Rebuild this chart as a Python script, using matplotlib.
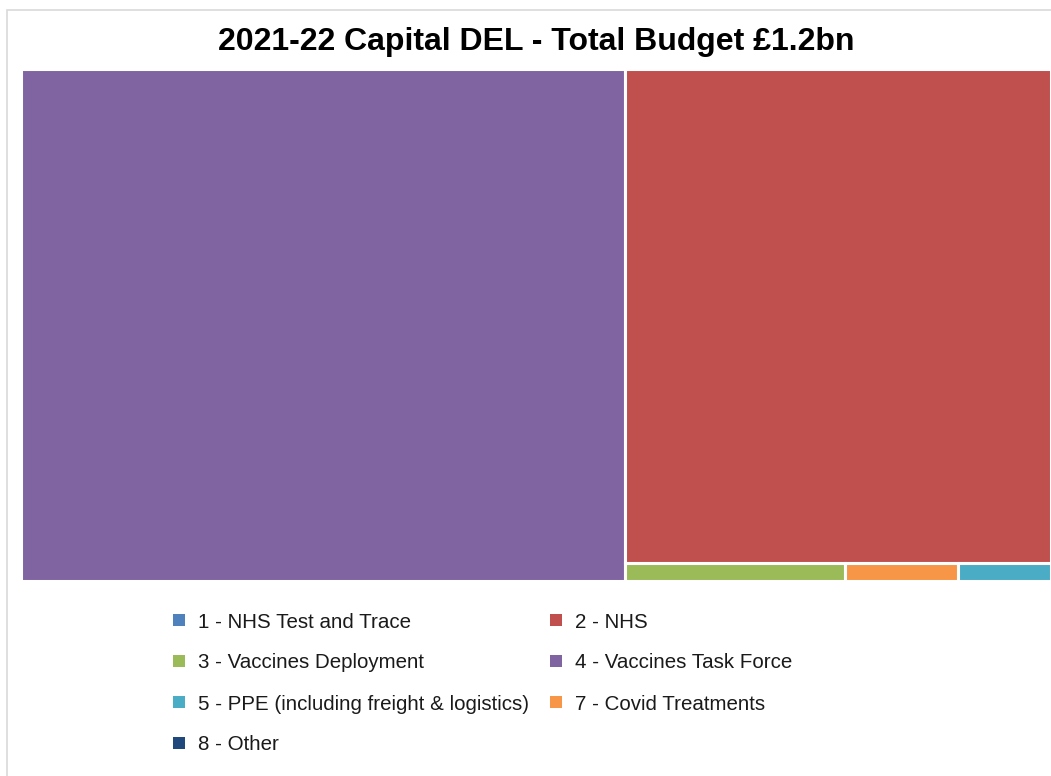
import matplotlib.pyplot as plt
from matplotlib.patches import Rectangle

plt.rcParams['font.family'] = ['Liberation Sans', 'DejaVu Sans']

# 2021-22 Capital DEL by area, £m
labels = ['1 - NHS Test and Trace', '2 - NHS', '3 - Vaccines Deployment',
          '4 - Vaccines Task Force', '5 - PPE (including freight & logistics)',
          '7 - Covid Treatments', '8 - Other']
values = [0.0, 480.0, 8.8, 704.0, 3.7, 4.5, 0.0]
colors = ['#4F81BD', '#C0504D', '#9BBB59', '#8064A2', '#4BACC6', '#F79646', '#1F497D']
title = '2021-22 Capital DEL - Total Budget £1.2bn'


def worst(row, w):
    s = sum(row)
    return max(max(w * w * r / (s * s), (s * s) / (w * w * r)) for r in row)


def layout_row(row, x, y, dx, dy):
    # lay a row along the shorter side, return rects and the remaining space
    s = sum(row)
    rects = []
    if dx >= dy:
        width = s / dy
        yy = y + dy
        for r in row:
            h = r / width
            yy -= h
            rects.append((x, yy, width, h))
        return rects, (x + width, y, dx - width, dy)
    height = s / dx
    xx = x
    for r in row:
        w = r / height
        rects.append((xx, y + dy - height, w, height))
        xx += w
    return rects, (x, y, dx, dy - height)


def squarify(sizes, x, y, dx, dy):
    total = sum(sizes)
    sizes = [s * dx * dy / total for s in sizes]
    rects = []
    row = []
    i = 0
    while i < len(sizes):
        side = min(dx, dy)
        if not row or worst(row + [sizes[i]], side) <= worst(row, side):
            row.append(sizes[i])
            i += 1
        else:
            r, (x, y, dx, dy) = layout_row(row, x, y, dx, dy)
            rects += r
            row = []
    if row:
        r, _ = layout_row(row, x, y, dx, dy)
        rects += r
    return rects


W, H = 1030, 512
fig = plt.figure(figsize=(10.51, 7.76), dpi=100)
ax = fig.add_axes([21 / 1051, 1 - 581 / 776, W / 1051, H / 776])
ax.set_xlim(0, W)
ax.set_ylim(0, H)
ax.axis('off')

idx = sorted([i for i in range(len(values)) if values[i] > 0], key=lambda i: -values[i])
rects = squarify([values[i] for i in idx], 0, 0, W, H)
for i, (rx, ry, rw, rh) in zip(idx, rects):
    ax.add_patch(Rectangle((rx, ry), rw, rh, facecolor=colors[i],
                           edgecolor='white', linewidth=2.2))

fig.text(536 / 1051, 1 - 42 / 776, title, ha='center', va='center',
         fontsize=23, fontweight='bold', color='#000000')

# legend, two columns filled row by row
for k, (lab, col) in enumerate(zip(labels, colors)):
    r, c = divmod(k, 2)
    mx = [173, 550][c]
    my = 620 + 41 * r
    fig.add_artist(Rectangle((mx / 1051, 1 - (my + 6) / 776), 12 / 1051, 12 / 776,
                             transform=fig.transFigure, facecolor=col, edgecolor='none'))
    fig.text((mx + 25) / 1051, 1 - (my + 2) / 776, lab, ha='left', va='center',
             fontsize=14.8, color='#1a1a1a')

# outer frame
fig.add_artist(Rectangle((7 / 1051, -0.1), 1.2, 1.1 - 10 / 776, transform=fig.transFigure,
                         facecolor='none', edgecolor='#D9D9D9', linewidth=1.2))

fig.savefig('out.png', dpi=100)
